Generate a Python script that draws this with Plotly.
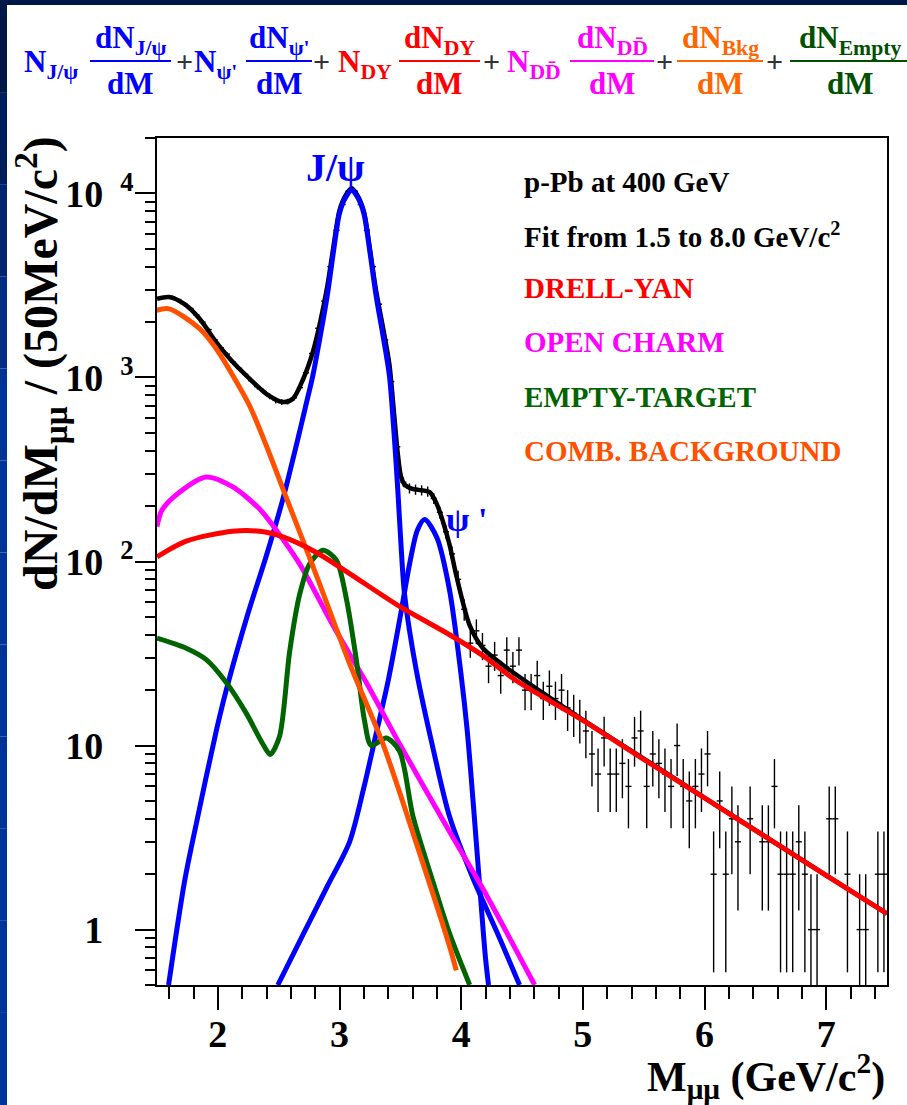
import numpy as np
import plotly.graph_objects as go

# ---------------- data ----------------
# 50 MeV bins from 1.5 to 7.5 GeV/c^2
mass_bins = [round(1.525 + 0.05 * i, 3) for i in range(120)]
counts = [
    2690, 2740, 2730, 2650, 2520, 2370, 2180, 2000, 1820, 1600,
    1450, 1340, 1210, 1120, 1040, 960, 890, 840, 790, 750,
    735, 740, 775, 880, 1060, 1350, 1850, 2600, 4000, 6300,
    8700, 10300, 10300, 8700, 6300, 4000, 2500, 1600, 950, 420,
    270, 250, 246, 244, 240, 220, 185, 145, 110, 80,
    55, 36, 42, 35, 27, 31, 24, 33, 27, 33,
    20, 20, 24, 18, 21, 18, 20, 16, 15, 14,
    12, 9, 7, 11, 7, 7, 8, 6, 11, 12,
    6, 9, 8, 7, 6, 10, 6, 5, 6, 7,
    9, 2, 5, 2, 4, 3, None, 4, None, 3,
    3, 6, 2, 2, 2, 3, 2, 1, 1, None,
    4, 4, None, 2, None, 1, 1, None, 2, 2,
]

total_m = [1.50, 1.60, 1.726, 1.85, 1.987, 2.123, 2.26, 2.398, 2.535, 2.617, 2.70, 2.781,
           2.84, 2.90, 2.95, 3.0, 3.05, 3.1, 3.15, 3.2, 3.25, 3.30, 3.36, 3.41,
           3.45, 3.48, 3.505, 3.535, 3.60, 3.65, 3.741, 3.80, 3.85, 3.905, 3.96, 4.07,
           4.179, 4.37, 4.728, 5.0, 5.5, 6.0, 6.5, 7.0, 7.5]
total_v = [2675, 2735, 2500, 2085, 1556, 1212, 985, 815, 735, 766, 975, 1375,
           1980, 3130, 5130, 8100, 9750, 10650, 9700, 7980, 4980, 2980, 1830, 1180,
           620, 380, 290, 262, 248, 245, 238, 205, 165, 123, 84, 45,
           33.8, 26.6, 18.2, 13.8, 8.5, 5.2, 3.2, 1.97, 1.22]

jpsi_m = [1.595, 1.726, 1.822, 1.987, 2.069, 2.247, 2.398, 2.535, 2.66, 2.72, 2.781, 2.84,
          2.90, 2.95, 3.0, 3.05, 3.1, 3.15, 3.2, 3.25, 3.30, 3.36, 3.41, 3.45,
          3.48, 3.505, 3.535, 3.632, 3.768, 3.905, 4.097, 4.30, 4.48]
jpsi_v = [0.5, 1.82, 3.74, 12.0, 20, 52, 107, 219, 470, 690, 1025, 1650,
          2800, 4800, 7800, 9500, 10400, 9500, 7800, 4800, 2800, 1650, 1025, 480,
          240, 125, 66, 25.5, 9.7, 4.1, 1.9, 0.95, 0.5]

psi2_m = [2.493, 2.70, 2.90, 3.083, 3.20, 3.30, 3.40, 3.494, 3.58, 3.64, 3.70, 3.80,
          3.905, 4.0, 4.05, 4.10, 4.15, 4.20, 4.225]
psi2_v = [0.5, 0.94, 1.72, 3.0, 5.9, 11.5, 22.5, 48, 100, 148, 169, 135,
          69.5, 24, 12, 4.8, 1.8, 0.7, 0.5]

dy_m = [1.50, 1.74, 2.123, 2.343, 2.535, 2.81, 3.083, 3.494, 3.905, 4.179, 4.454, 4.728,
        5.0, 5.5, 6.0, 6.5, 7.0, 7.5]
dy_v = [106, 129, 146, 146, 136, 112, 86, 57, 40, 30.8, 22.5, 17.5,
        13.7, 8.42, 5.19, 3.2, 1.97, 1.22]

charm_m = [1.50, 1.54, 1.685, 1.905, 2.12, 2.343, 2.452, 2.672, 2.946, 3.22, 3.494, 3.905,
           4.18, 4.604]
charm_v = [155, 190, 238, 288, 255, 193, 157, 97, 45, 22, 10.2, 3.4,
           1.66, 0.5]

empty_m = [1.50, 1.74, 1.905, 2.069, 2.233, 2.37, 2.431, 2.507, 2.59, 2.672, 2.754, 2.864,
           2.973, 3.056, 3.138, 3.206, 3.261, 3.384, 3.494, 3.604, 3.768, 3.905, 4.07]
empty_v = [38.3, 33.8, 29.3, 22, 15, 10.2, 8.95, 11.2, 32.3, 66, 97, 115,
           102, 63, 29.3, 13.6, 10, 11, 9.3, 4.12, 1.82, 0.95, 0.5]

bkg_m = [1.493, 1.60, 1.85, 1.987, 2.123, 2.26, 2.398, 2.535, 2.81, 3.083, 3.357, 3.632,
         3.905, 3.96]
bkg_v = [2313, 2360, 1840, 1432, 1025, 704, 427, 248, 84, 27.9, 10.2, 2.94,
         0.81, 0.6]

x_ticks = [2, 3, 4, 5, 6, 7]
y_ticks = [1, 10, 100, 1000, 10000]
GAP = "\u00a0\u2009"
HIDE = "<span style='color:rgba(0,0,0,0)'>" + GAP + "<sup>0</sup></span>"
y_ticktext = ["1" + HIDE, "10" + HIDE,
              "10" + GAP + "<sup>2</sup>", "10" + GAP + "<sup>3</sup>", "10" + GAP + "<sup>4</sup>"]

# ---------------- styling ----------------
W, H = 907, 1105
L, R, T, B = 157, 20, 138, 120
SERIF = "Liberation Serif"
BLUE = "#0000ff"
RED = "#ff0000"
MAG = "#ff00ff"
GREEN = "#006400"
ORANGE = "#ff5000"


def px(xp):
    return (xp - L) / (W - L - R)


def py(yp):
    return (H - B - yp) / (H - T - B)


fig = go.Figure()

fig.add_trace(go.Scatter(
    x=mass_bins, y=counts, mode="markers",
    marker=dict(size=1, color="black"),
    error_y=dict(type="sqrt", width=0, thickness=1.4, color="black"),
    error_x=dict(type="constant", value=0.025, width=0, thickness=1.4, color="black"),
    hoverinfo="skip"))

fig.add_trace(go.Scatter(x=total_m, y=total_v, mode="lines",
                         line=dict(color="black", width=4.5, shape="spline", smoothing=0.8)))
for m, v, c in [(jpsi_m, jpsi_v, BLUE), (psi2_m, psi2_v, BLUE), (charm_m, charm_v, MAG),
                (empty_m, empty_v, GREEN), (bkg_m, bkg_v, ORANGE), (dy_m, dy_v, RED)]:
    fig.add_trace(go.Scatter(x=m, y=v, mode="lines",
                             line=dict(color=c, width=5, shape="spline", smoothing=0.8)))

tickfont = dict(family=SERIF, size=38, color="black", weight="bold")
fig.update_layout(
    width=W, height=H,
    margin=dict(l=L, r=R, t=T, b=B),
    paper_bgcolor="white", plot_bgcolor="white",
    showlegend=False,
    xaxis=dict(range=[1.5, 7.5], tickmode="array", tickvals=x_ticks,
               ticktext=[str(t) for t in x_ticks],
               ticks="outside", ticklen=23, tickwidth=1.5, tickcolor="black",
               ticklabelstandoff=-8,
               showline=True, linecolor="black", linewidth=1.5, mirror=True,
               showgrid=False, zeroline=False, tickfont=tickfont,
               minor=dict(tickmode="array",
                          tickvals=[round(1.6 + 0.2 * i, 1) for i in range(30) if round(1.6 + 0.2 * i, 1) % 1 != 0],
                          ticks="outside", ticklen=12, tickwidth=1.5, tickcolor="black", showgrid=False)),
    yaxis=dict(type="log", range=[np.log10(0.5), np.log10(2e4)], tickmode="array",
               tickvals=y_ticks, ticktext=y_ticktext,
               ticks="outside", ticklen=20, tickwidth=1.5, tickcolor="black",
               ticklabelstandoff=-6,
               showline=True, linecolor="black", linewidth=1.5, mirror=True,
               showgrid=False, zeroline=False, tickfont=tickfont,
               minor=dict(tickmode="array",
                          tickvals=[k * 10 ** e for e in range(-1, 5) for k in range(2, 10)],
                          ticks="outside", ticklen=10, tickwidth=1.5, tickcolor="black", showgrid=False)),
)

shapes = []
# dark blue frame (top band + left strip)
shapes.append(dict(type="rect", xref="paper", yref="paper", x0=px(0), x1=px(W), y0=py(5), y1=py(0),
                   fillcolor="#001848", line=dict(width=0), layer="above"))
n = 12
for i in range(n):
    y0p = H * i / n
    y1p = H * (i + 1) / n
    f = min(1.0, i / 4)
    g_ = int(0x18 + f * (0x33 - 0x18))
    b_ = int(0x48 + f * (0x99 - 0x48))
    shapes.append(dict(type="rect", xref="paper", yref="paper", x0=px(0), x1=px(7),
                       y0=py(y1p), y1=py(y0p), fillcolor=f"rgb(0,{g_},{b_})",
                       line=dict(width=0), layer="above"))

annotations = []


def ann(x, y, text, color="black", size=30, xanchor="center", yanchor="middle", angle=0):
    annotations.append(dict(x=px(x), y=py(y), xref="paper", yref="paper", text=text,
                            showarrow=False, xanchor=xanchor, yanchor=yanchor, textangle=angle,
                            font=dict(family=SERIF, size=size, color=color)))


# header formula
HY_MAIN, HY_NUM, HY_DEN, HY_LINE = 60, 40, 83, 61
pieces = [
    ("N<sub>J/ψ</sub>", 22, None, None, BLUE),
    (None, None, "dN<sub>J/ψ</sub>", (90, 171), BLUE),
    ("+", 184, None, None, "#333333"),
    ("N<sub>ψ'</sub>", 192, None, None, BLUE),
    (None, None, "dN<sub>ψ'</sub>", (246, 312), BLUE),
    ("+", 321, None, None, "#333333"),
    ("N<sub>DY</sub>", 336, None, None, RED),
    (None, None, "dN<sub>DY</sub>", (399, 480), RED),
    ("+", 491, None, None, "#333333"),
    ("N<sub>DD\u0304</sub>", 505, None, None, MAG),
    (None, None, "dN<sub>DD\u0304</sub>", (570, 654), MAG),
    ("+", 664, None, None, "#333333"),
    (None, None, "dN<sub>Bkg</sub>", (677, 763), "#ff6600"),
    ("+", 774, None, None, "#333333"),
    (None, None, "dN<sub>Empty</sub>", (790, 910), "#005000"),
]
for main, mx, num, span, col in pieces:
    if main is not None:
        if main == "+":
            ann(mx, HY_LINE, "<b>+</b>", col, 30)
        else:
            ann(mx, HY_MAIN + 4, f"<b>{main}</b>", col, 31, xanchor="left")
    else:
        cx = (span[0] + span[1]) / 2
        if span[1] > W:
            cx = 850
        ann(cx, HY_NUM, f"<b>{num}</b>", col, 31)
        ann(cx, HY_DEN, "<b>dM</b>", col, 31)
        shapes.append(dict(type="line", xref="paper", yref="paper", x0=px(span[0]), x1=px(min(span[1], W)),
                           y0=py(HY_LINE), y1=py(HY_LINE), line=dict(color=col, width=2)))

# axis titles
ann(40, 364, "<b>dN/dM<sub>μμ</sub> / (50MeV/c<sup>2</sup>)</b>", "black", 48, angle=-90)
ann(887, 1076, "<b>M<sub>μμ</sub> (GeV/c<sup>2</sup>)</b>", "black", 42, xanchor="right")

# peak labels
ann(335, 168, "<b>J/ψ</b>", BLUE, 40)
ann(466, 519, "<b>ψ '</b>", BLUE, 34)

# legend text
legend_lines = [("p-Pb at 400 GeV", "black"),
                ("Fit from 1.5 to 8.0 GeV/c<sup>2</sup>", "black"),
                ("DRELL-YAN", RED),
                ("OPEN CHARM", MAG),
                ("EMPTY-TARGET", GREEN),
                ("COMB. BACKGROUND", ORANGE)]
legend_y = [182, 235, 288, 342, 397, 451]
for (txt, col), yy in zip(legend_lines, legend_y):
    ann(522, yy, f"<b>{txt}</b>", col, 29, xanchor="left")

fig.update_layout(shapes=shapes, annotations=annotations)
fig.write_html("out.html", config={"displayModeBar": False},
               post_script="document.body.style.margin='0';document.body.style.overflow='hidden';")
